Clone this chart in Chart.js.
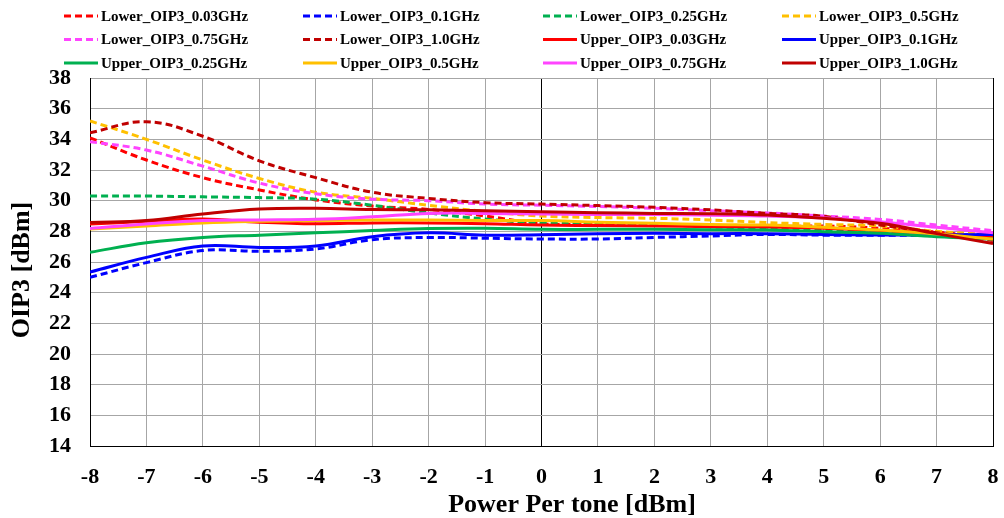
<!DOCTYPE html>
<html>
<head>
<meta charset="utf-8">
<script src="https://cdn.jsdelivr.net/npm/chart.js@4.4.1/dist/chart.umd.min.js"></script>
<style>
  html, body { margin: 0; padding: 0; background: #fff; }
  #wrap { width: 1004px; height: 518px; position: relative; }
</style>
</head>
<body>
<div id="wrap"><canvas id="oip3Chart"></canvas></div>
<script>
// ---------- data ----------
const powerPerTone = [-8, -7, -6, -5, -4, -3, -2, -1, 0, 1, 2, 3, 4, 5, 6, 7, 8];
const yTicks = [14, 16, 18, 20, 22, 24, 26, 28, 30, 32, 34, 36, 38];

const lower003 = [34.1, 32.65, 31.5, 30.7, 30.05, 29.65, 29.43, 29.0, 28.5, 28.45, 28.45, 28.4, 28.3, 28.35, 28.2, 27.95, 27.6];
const lower01  = [25.0, 25.96, 26.75, 26.7, 26.85, 27.45, 27.6, 27.55, 27.5, 27.5, 27.6, 27.7, 27.8, 27.75, 27.75, 27.75, 27.8];
const lower025 = [30.3, 30.3, 30.25, 30.2, 30.1, 29.7, 29.2, 28.8, 28.55, 28.5, 28.45, 28.3, 28.2, 28.1, 27.9, 27.7, 27.5];
const lower05  = [35.2, 34.0, 32.65, 31.45, 30.55, 30.15, 29.7, 29.3, 29.0, 28.9, 28.85, 28.74, 28.57, 28.45, 28.35, 28.0, 27.8];
const lower075 = [33.85, 33.3, 32.25, 31.15, 30.45, 30.1, 30.0, 29.78, 29.7, 29.62, 29.5, 29.35, 29.2, 29.0, 28.78, 28.41, 28.04];
const lower10  = [34.43, 35.15, 34.2, 32.6, 31.5, 30.55, 30.15, 29.87, 29.78, 29.68, 29.57, 29.4, 29.17, 28.98, 28.41, 27.91, 27.4];
const upper003 = [28.48, 28.65, 28.8, 28.6, 28.5, 28.55, 28.55, 28.5, 28.41, 28.38, 28.35, 28.3, 28.28, 28.2, 28.05, 27.85, 27.6];
const upper01  = [25.35, 26.3, 27.05, 26.95, 27.05, 27.65, 27.9, 27.75, 27.78, 27.85, 27.87, 27.85, 27.85, 27.8, 27.76, 27.76, 27.8];
const upper025 = [26.63, 27.25, 27.6, 27.75, 27.9, 28.05, 28.18, 28.2, 28.13, 28.13, 28.13, 28.1, 28.08, 27.98, 27.87, 27.65, 27.5];
const upper05  = [28.15, 28.35, 28.55, 28.65, 28.7, 28.74, 28.74, 28.7, 28.7, 28.6, 28.52, 28.45, 28.41, 28.26, 28.08, 27.82, 27.5];
const upper075 = [28.19, 28.48, 28.7, 28.74, 28.78, 28.95, 29.17, 29.17, 29.13, 29.1, 29.1, 29.05, 29.0, 28.88, 28.63, 28.26, 27.91];
const upper10  = [28.57, 28.7, 29.13, 29.45, 29.5, 29.43, 29.4, 29.35, 29.28, 29.22, 29.17, 29.15, 29.06, 28.85, 28.52, 27.85, 27.2];

const seriesNames = [
  "Lower_OIP3_0.03GHz", "Lower_OIP3_0.1GHz", "Lower_OIP3_0.25GHz", "Lower_OIP3_0.5GHz",
  "Lower_OIP3_0.75GHz", "Lower_OIP3_1.0GHz", "Upper_OIP3_0.03GHz", "Upper_OIP3_0.1GHz",
  "Upper_OIP3_0.25GHz", "Upper_OIP3_0.5GHz", "Upper_OIP3_0.75GHz", "Upper_OIP3_1.0GHz"
];
const seriesValues = [lower003, lower01, lower025, lower05, lower075, lower10,
                      upper003, upper01, upper025, upper05, upper075, upper10];
const seriesColors = ["#FF0000", "#0000FF", "#00B050", "#FFC000", "#FF44FF", "#C00000",
                      "#FF0000", "#0000FF", "#00B050", "#FFC000", "#FF44FF", "#C00000"];

const FONT = "'Liberation Serif', 'Times New Roman', serif";
const GRID = "#A6A6A6";

const datasets = seriesNames.map((name, i) => ({
  label: name,
  data: powerPerTone.map((x, j) => ({ x: x, y: seriesValues[i][j] })),
  borderColor: seriesColors[i],
  backgroundColor: seriesColors[i],
  borderWidth: 3,
  borderDash: name.startsWith("Lower") ? [7, 4] : [],
  pointRadius: 0,
  tension: 0.4,
  fill: false,
  order: seriesNames.length - i   // later series on top, like Excel
}));

// ---------- legend + axis titles ----------
const decorPlugin = {
  id: "decor",
  afterDraw(chart) {
    const c = chart.ctx;
    const colX = [64, 303, 543, 782];
    const rowY = [16, 39.5, 63];
    c.save();
    c.font = "bold 15px " + FONT;
    c.textBaseline = "middle";
    c.fillStyle = "#000";
    chart.data.datasets.forEach((ds, i) => {
      const x = colX[i % 4], y = rowY[Math.floor(i / 4)];
      c.beginPath();
      c.strokeStyle = ds.borderColor;
      c.lineWidth = 3;
      c.setLineDash(ds.borderDash);
      c.moveTo(x, y);
      c.lineTo(x + 34, y);
      c.stroke();
      c.setLineDash([]);
      c.fillText(ds.label, x + 37, y + 1);
    });
    c.font = "bold 26px " + FONT;
    c.textAlign = "center";
    c.fillText("Power Per tone [dBm]", 572, 505);
    c.translate(22.5, 270);
    c.rotate(-Math.PI / 2);
    c.fillText("OIP3 [dBm]", 0, 0);
    c.restore();
  }
};

const ctx = document.getElementById("oip3Chart");
new Chart(ctx, {
  type: "line",
  data: { datasets: datasets },
  options: {
    responsive: true,
    maintainAspectRatio: false,
    animation: false,
    layout: { padding: { top: 78, right: 11, bottom: 0, left: 0 } },
    plugins: { legend: { display: false }, tooltip: { enabled: false } },
    scales: {
      x: {
        type: "linear",
        min: -8, max: 8,
        ticks: { stepSize: 1, color: "#000", padding: 18, font: { family: FONT, size: 22, weight: "bold" } },
        grid: {
          drawTicks: false,
          color: (c) => (c.tick && (c.tick.value === 0 || c.tick.value === 8 || c.tick.value === -8)) ? "#000" : GRID,
          lineWidth: 1
        },
        border: { color: "#000", width: 1 },
        afterFit: (s) => { s.height = 72; s.paddingLeft = 0; s.paddingRight = 0; }
      },
      y: {
        min: 14, max: 38,
        afterBuildTicks: (s) => { s.ticks = yTicks.map(v => ({ value: v })); },
        ticks: { color: "#000", padding: 19, font: { family: FONT, size: 22, weight: "bold" } },
        grid: {
          drawTicks: false,
          color: (c) => (c.tick && c.tick.value === 14) ? "#000" : GRID,
          lineWidth: 1
        },
        border: { color: "#000", width: 1 },
        afterFit: (s) => { s.width = 90; s.paddingTop = 0; s.paddingBottom = 0; }
      }
    }
  },
  plugins: [decorPlugin]
});
</script>
</body>
</html>
